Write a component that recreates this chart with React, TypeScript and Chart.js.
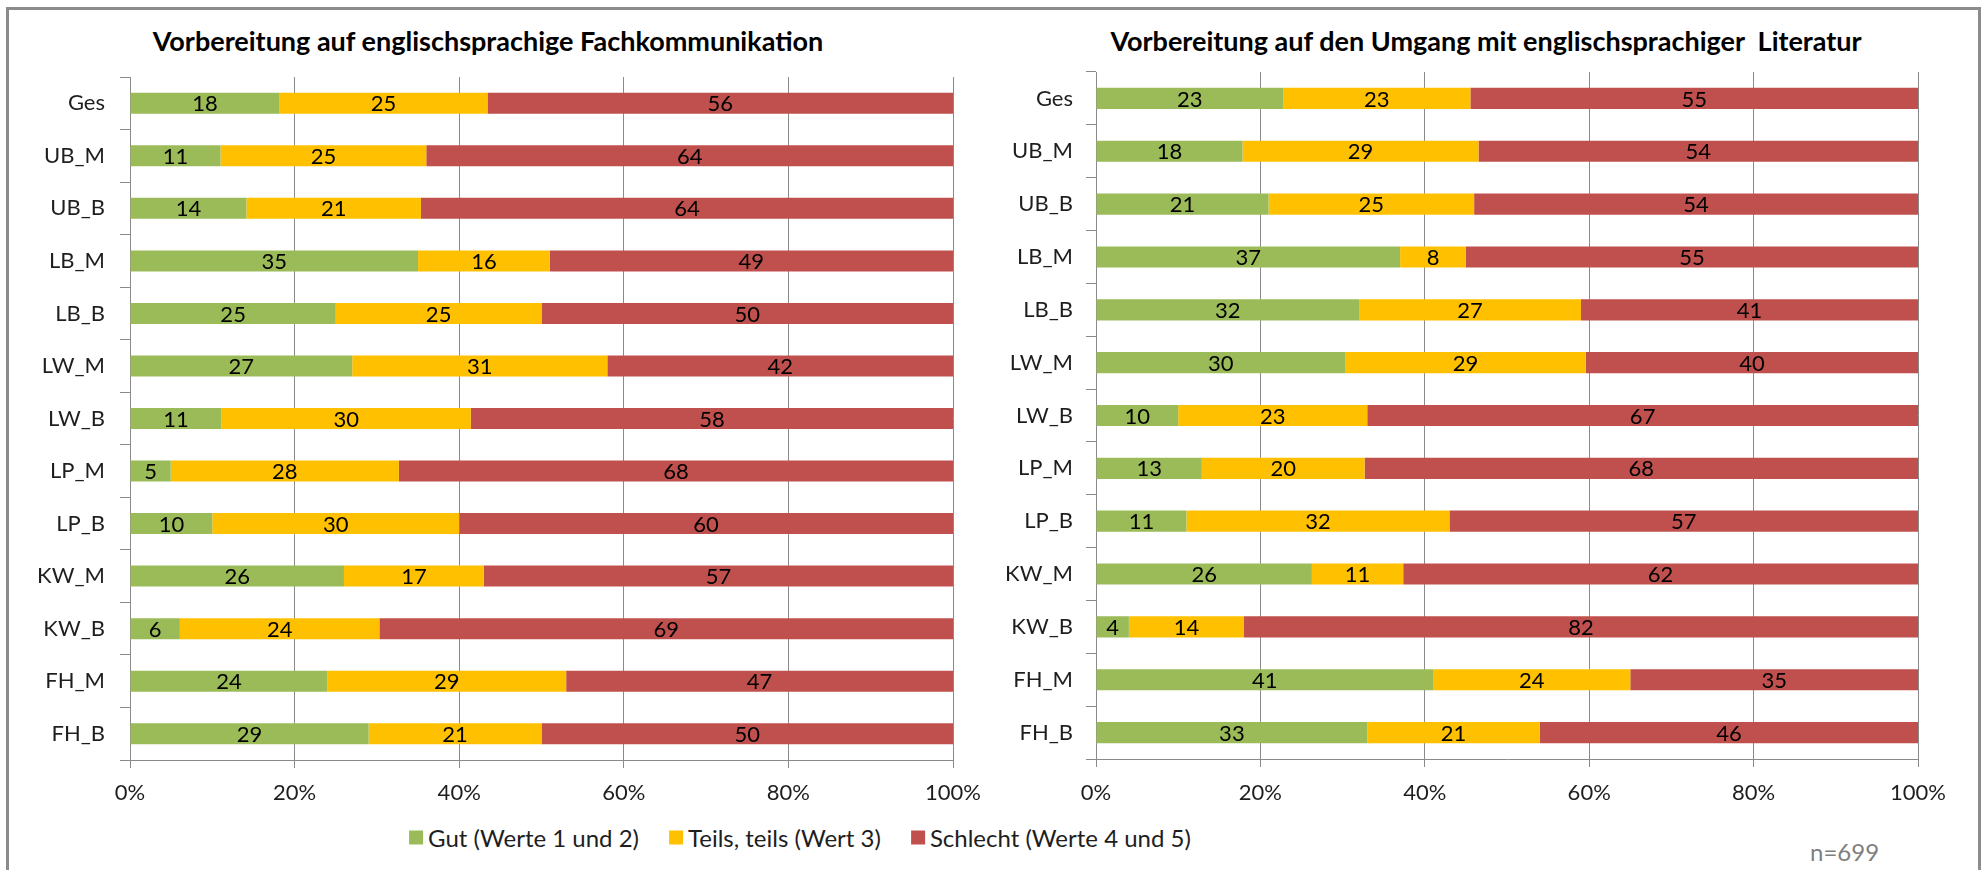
import React, { useEffect, useRef } from "react";
import { Chart, registerables } from "chart.js";

Chart.register(...registerables);

// ---------- data ----------
const categories = ["Ges", "UB_M", "UB_B", "LB_M", "LB_B", "LW_M", "LW_B", "LP_M", "LP_B", "KW_M", "KW_B", "FH_M", "FH_B"];
const seriesNames = ["Gut (Werte 1 und 2)", "Teils, teils (Wert 3)", "Schlecht (Werte 4 und 5)"];
const seriesColors = ["#9BBB59", "#FFC000", "#C0504D"];
const xTickValues = [0, 20, 40, 60, 80, 100];

const titleLeft = "Vorbereitung auf englischsprachige Fachkommunikation";
const titleRight = "Vorbereitung auf den Umgang mit englischsprachiger  Literatur";
const sampleNote = "n=699";

const fachGut = [18, 11, 14, 35, 25, 27, 11, 5, 10, 26, 6, 24, 29];
const fachTeils = [25, 25, 21, 16, 25, 31, 30, 28, 30, 17, 24, 29, 21];
const fachSchlecht = [56, 64, 64, 49, 50, 42, 58, 68, 60, 57, 69, 47, 50];

const litGut = [23, 18, 21, 37, 32, 30, 10, 13, 11, 26, 4, 41, 33];
const litTeils = [23, 29, 25, 8, 27, 29, 23, 20, 32, 11, 14, 24, 21];
const litSchlecht = [55, 54, 54, 55, 41, 40, 67, 68, 57, 62, 82, 35, 46];

// ---------- style ----------
const FONT = "Lato, 'Open Sans', 'DejaVu Sans', sans-serif";
const FONT_SIZE = 22;
const LEGEND_SIZE = 24;
const TITLE_SIZE = 27;
const GRID = "#8a8a8a";
const TEXT = "#1e1e1e";

type Geo = {
  left: number;
  top: number;
  width: number;
  height: number;
  yWidth: number;
  padTop: number;
  padRight: number;
  yPad: number;
  xPad: number;
};

function makeLabelPlugin(labels: number[][]) {
  return {
    id: "barValueLabels",
    afterDatasetsDraw(chart: any) {
      const ctx = chart.ctx;
      ctx.save();
      ctx.font = `${FONT_SIZE}px ${FONT}`;
      ctx.fillStyle = "#000";
      ctx.textAlign = "center";
      ctx.textBaseline = "middle";
      chart.data.datasets.forEach((_ds: any, di: number) => {
        const meta = chart.getDatasetMeta(di);
        meta.data.forEach((el: any, i: number) => {
          const p = el.getProps(["x", "base", "y"], true);
          ctx.fillText(String(labels[di][i]), (p.x + p.base) / 2, p.y + 1);
        });
      });
      ctx.restore();
    },
  };
}

function StackedChart({ series, geo }: { series: number[][]; geo: Geo }) {
  const ref = useRef<HTMLCanvasElement>(null);
  useEffect(() => {
    if (!ref.current) return;
    const totals = categories.map((_, i) => series.reduce((s, arr) => s + arr[i], 0));
    const datasets = series.map((arr, si) => ({
      label: seriesNames[si],
      data: arr.map((v, i) => (v / totals[i]) * 100),
      backgroundColor: seriesColors[si],
      borderWidth: 0,
      categoryPercentage: 1,
      barPercentage: 0.4,
    }));
    const tickFont = { family: FONT, size: FONT_SIZE };
    const chart = new Chart(ref.current, {
      type: "bar",
      data: { labels: categories, datasets },
      options: {
        indexAxis: "y",
        responsive: false,
        animation: false,
        layout: { padding: { top: geo.padTop, right: geo.padRight, left: 0, bottom: 0 } },
        plugins: {
          legend: { display: false },
          title: { display: false },
          tooltip: { enabled: false },
        },
        scales: {
          x: {
            stacked: true,
            min: 0,
            max: 100,
            afterBuildTicks: (s: any) => {
              s.ticks = xTickValues.map((v) => ({ value: v }));
            },
            ticks: {
              callback: (v: any) => `${v}%`,
              font: tickFont,
              color: TEXT,
              padding: geo.xPad,
              maxRotation: 0,
              autoSkip: false,
            },
            grid: { color: GRID, lineWidth: 1, tickLength: 8 },
            border: { color: GRID, width: 1 },
            afterFit: (s: any) => {
              s.height = 50;
              s.paddingLeft = 0;
              s.paddingRight = 0;
            },
          },
          y: {
            stacked: true,
            ticks: { font: tickFont, color: TEXT, padding: geo.yPad, autoSkip: false },
            grid: { drawOnChartArea: false, offset: true, tickLength: 10, color: GRID, lineWidth: 1 },
            border: { color: GRID, width: 1 },
            afterFit: (s: any) => {
              s.width = geo.yWidth;
              s.paddingTop = 0;
              s.paddingBottom = 0;
            },
          },
        },
      },
      plugins: [makeLabelPlugin(series)],
    } as any);
    return () => chart.destroy();
  }, []);
  return (
    <canvas
      ref={ref}
      width={geo.width}
      height={geo.height}
      style={{ position: "absolute", left: geo.left, top: geo.top, width: geo.width, height: geo.height }}
    />
  );
}

const leftGeo: Geo = { left: 10, top: 60, width: 980, height: 750, yWidth: 120, padTop: 17, padRight: 37, yPad: 15, xPad: 12 };
const rightGeo: Geo = { left: 1000, top: 55, width: 980, height: 754, yWidth: 96, padTop: 17, padRight: 62, yPad: 13, xPad: 13 };

export default function App() {
  const titleStyle: React.CSSProperties = {
    position: "absolute",
    top: 40,
    transform: "translate(-50%, -50%)",
    fontFamily: FONT,
    fontWeight: 700,
    fontSize: TITLE_SIZE,
    color: "#000",
    whiteSpace: "pre",
  };
  return (
    <div
      style={{
        position: "fixed",
        left: 0,
        top: 0,
        width: 1986,
        height: 870,
        overflow: "hidden",
        background: "#fff",
        fontFamily: FONT,
      }}
    >
      <div
        style={{
          position: "absolute",
          left: 6,
          top: 7,
          width: 1969,
          height: 900,
          border: "3px solid #8c8c8c",
        }}
      />
      <div style={{ ...titleStyle, left: 488 }}>{titleLeft}</div>
      <div style={{ ...titleStyle, left: 1486 }}>{titleRight}</div>
      <StackedChart series={[fachGut, fachTeils, fachSchlecht]} geo={leftGeo} />
      <StackedChart series={[litGut, litTeils, litSchlecht]} geo={rightGeo} />
      <div
        style={{
          position: "absolute",
          left: 800,
          top: 837,
          transform: "translate(-50%, -50%)",
          display: "flex",
          alignItems: "center",
          gap: 30,
          whiteSpace: "nowrap",
          fontSize: LEGEND_SIZE,
          color: TEXT,
        }}
      >
        {seriesNames.map((n, i) => (
          <div key={n} style={{ display: "flex", alignItems: "center", gap: 5 }}>
            <span style={{ display: "inline-block", width: 14, height: 14, background: seriesColors[i] }} />
            <span>{n}</span>
          </div>
        ))}
      </div>
      <div
        style={{
          position: "absolute",
          left: 1810,
          top: 851,
          transform: "translateY(-50%)",
          fontSize: LEGEND_SIZE,
          color: "#7f7f7f",
        }}
      >
        {sampleNote}
      </div>
    </div>
  );
}
